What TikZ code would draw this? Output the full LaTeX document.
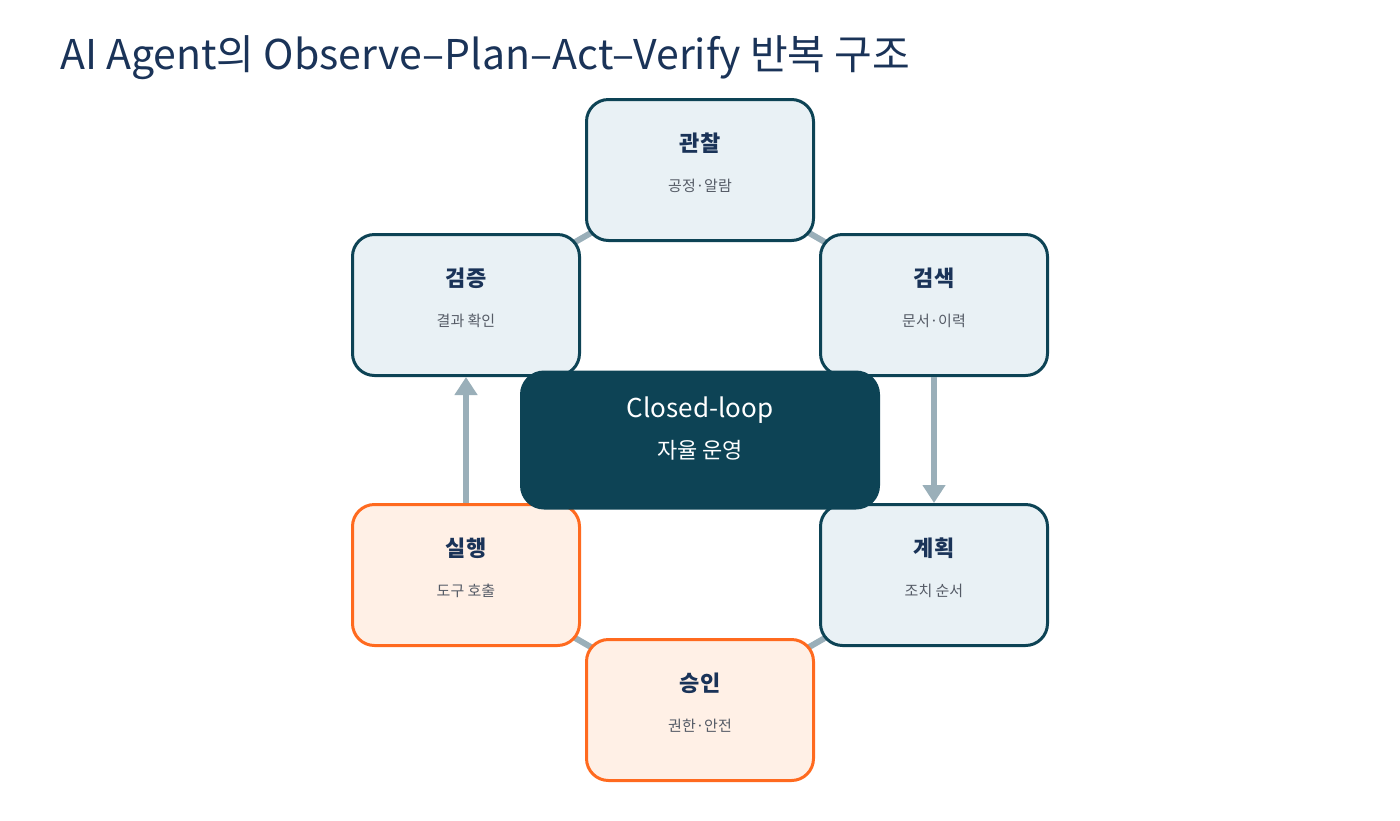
\documentclass[tikz,border=0pt]{standalone}
\usepackage{fontspec}
\setmainfont{Noto Sans CJK KR}
\usetikzlibrary{arrows.meta}
\definecolor{teal}{HTML}{0D4355}
\definecolor{lfill}{HTML}{E9F1F5}
\definecolor{orng}{HTML}{FF6A1F}
\definecolor{ofill}{HTML}{FFF0E6}
\definecolor{conn}{HTML}{9AAFB9}
\definecolor{ttl}{HTML}{1A3358}
\definecolor{sub}{HTML}{555B66}
\begin{document}
\begin{tikzpicture}[x=1pt,y=-1pt,
  box/.style={draw=teal,fill=lfill,line width=3pt,rounded corners=22pt,minimum width=227pt,minimum height=141pt},
  obox/.style={box,draw=orng,fill=ofill},
  ln/.style={draw=conn,line width=6pt},
  ar/.style={ln,-{Triangle[length=18pt,width=22pt]}}]
\useasboundingbox (0,0) rectangle (1400,820);
\node[anchor=west,text=ttl,font=\fontsize{41}{48}\selectfont,inner sep=0pt] (title) at (60,58) {AI Agent의 Observe–Plan–Act–Verify 반복 구조};
\coordinate (c1) at (700,170);
\coordinate (c2) at (466,305);
\coordinate (c3) at (934,305);
\coordinate (c4) at (466,575);
\coordinate (c5) at (934,575);
\coordinate (c6) at (700,710);
\draw[ln] (c1)--(c2); \draw[ln] (c1)--(c3);
\draw[ln] (c4)--(c6); \draw[ln] (c6)--(c5);
\newcommand{\bx}[5]{\node[#1] (#2) at (#3) {};
  \node[text=ttl,font=\fontsize{22}{26}\selectfont\bfseries] at ([yshift=27pt]#3) {#4};
  \node[text=sub,font=\fontsize{15}{18}\selectfont] at ([yshift=-16pt]#3) {#5};}
\bx{box}{obs}{c1}{관찰}{공정·알람}
\bx{box}{ver}{c2}{검증}{결과 확인}
\bx{box}{ret}{c3}{검색}{문서·이력}
\bx{obox}{act}{c4}{실행}{도구 호출}
\bx{box}{pln}{c5}{계획}{조치 순서}
\bx{obox}{apr}{c6}{승인}{권한·안전}
\draw[ar] (ret.south) -- (pln.north);
\draw[ar] (act.north) -- (ver.south);
\node[fill=teal,rounded corners=24pt,minimum width=360pt,minimum height=139pt] (ctr) at (700,440) {};
\node[text=white,font=\fontsize{26}{30}\selectfont] at (700,410) {Closed-loop};
\node[text=white,font=\fontsize{22}{26}\selectfont] at (700,450) {자율 운영};
\end{tikzpicture}
\end{document}
